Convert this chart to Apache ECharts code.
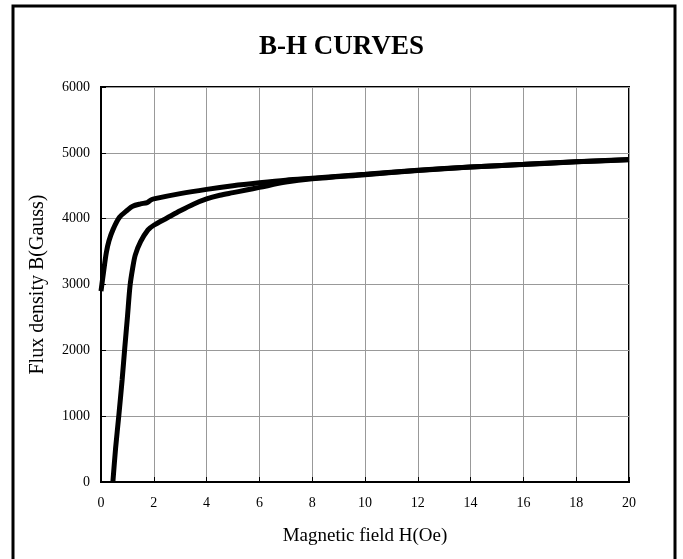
<!DOCTYPE html>
<html><head><meta charset="utf-8">
<script src="https://cdn.jsdelivr.net/npm/echarts@6/dist/echarts.min.js"></script>
<style>html,body{margin:0;padding:0;background:#fff}#c{width:683px;height:559px}</style>
</head><body><div id="c"></div>
<script>
const titleText = "B-H CURVES";
const xName = "Magnetic field H(Oe)";
const yName = "Flux density B(Gauss)";
// Recoil / return curve (upper)
const upperH = [0,0.1,0.2,0.3,0.45,0.7,1.0,1.2,1.5,1.75,1.9,2,3,4,5,6,7,8,10,12,14,16,18,20];
const upperB = [2900,3200,3480,3660,3830,4020,4130,4190,4225,4245,4285,4300,4380,4445,4500,4545,4585,4615,4675,4735,4785,4825,4865,4900];
// Initial magnetization curve (lower)
const lowerH = [0.45,0.55,0.68,0.8,0.9,1.0,1.1,1.2,1.3,1.5,1.78,2,2.5,3,3.5,4,4.5,5,5.5,6,7,8,10,12,14,16,18,20];
const lowerB = [0,500,1030,1550,2035,2500,2980,3250,3450,3650,3830,3900,4010,4120,4220,4300,4355,4395,4435,4475,4555,4605,4668,4732,4783,4823,4863,4895];

const toPairs = (xs, ys) => xs.map((x, i) => [x, ys[i]]);
const font = "Liberation Serif";
const chart = echarts.init(document.getElementById('c'));
chart.setOption({
  animation: false,
  backgroundColor: '#fff',
  title: { text: titleText, left: 'center', top: 29,
    textStyle: { fontFamily: font, fontSize: 27, fontWeight: 'bold', color: '#000' } },
  grid: { left: 101, right: 54, top: 87, bottom: 77, containLabel: false, show: true, borderColor: '#000', borderWidth: 2, backgroundColor: 'transparent' },
  xAxis: { type: 'value', min: 0, max: 20, interval: 2,
    name: xName, nameLocation: 'middle', nameGap: 45,
    nameTextStyle: { fontFamily: font, fontSize: 19, color: '#000' },
    axisLine: { show: true, lineStyle: { color: '#000', width: 2 } },
    axisTick: { show: true, inside: true, length: 5, lineStyle: { color: '#000' } },
    axisLabel: { fontFamily: font, fontSize: 14, color: '#000', margin: 14 },
    splitLine: { show: true, lineStyle: { color: '#999', width: 1 } } },
  yAxis: { type: 'value', min: 0, max: 6000, interval: 1000,
    name: yName, nameLocation: 'middle', nameGap: 53,
    nameTextStyle: { fontFamily: font, fontSize: 20, color: '#000' },
    axisLine: { show: true, lineStyle: { color: '#000', width: 2 } },
    axisTick: { show: true, inside: true, length: 5, lineStyle: { color: '#000' } },
    axisLabel: { fontFamily: font, fontSize: 14, color: '#000', margin: 11, formatter: v => String(v) },
    splitLine: { show: true, lineStyle: { color: '#999', width: 1 } } },
  series: [
    { type: 'line', data: toPairs(upperH, upperB), showSymbol: false, smooth: 0.3,
      lineStyle: { color: '#000', width: 5 }, clip: true },
    { type: 'line', data: toPairs(lowerH, lowerB), showSymbol: false, smooth: 0.3,
      lineStyle: { color: '#000', width: 5 }, clip: true }
  ],
  graphic: [{ type: 'rect', shape: { x: 13, y: 6, width: 662, height: 570 },
    style: { fill: 'none', stroke: '#000', lineWidth: 3 }, z: 100 }]
});
</script></body></html>
